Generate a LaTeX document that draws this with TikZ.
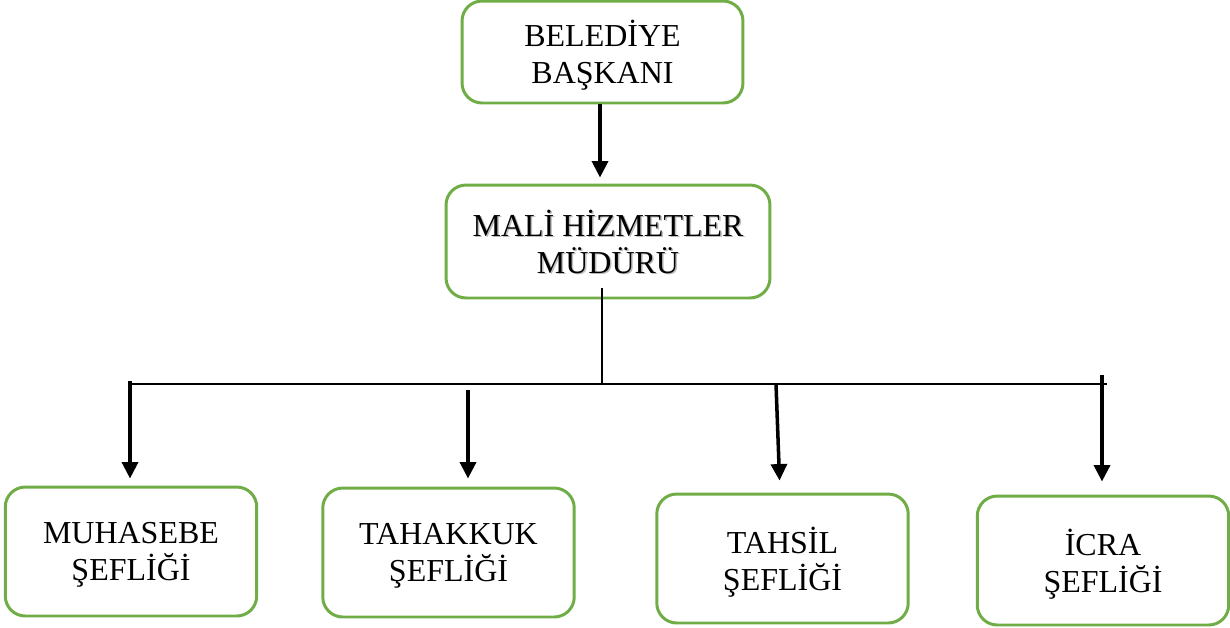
\documentclass[tikz,border=0pt]{standalone}
\usepackage{fontspec}
\setmainfont{Liberation Serif}
\usetikzlibrary{arrows.meta, positioning, calc}
\definecolor{c1}{HTML}{70AD47}
\definecolor{c2}{HTML}{000000}
\definecolor{shadowcolor}{HTML}{A0A0A0}

\begin{document}
\begin{tikzpicture}[
    x=0.02cm, y=-0.02cm,
    every node/.style={font=\fontsize{18.2}{21}\selectfont, align=center},
    unit/.style={draw=c1, line width=1.7pt, rounded corners=0.4cm,
                 inner sep=0pt, text=c2, text depth=0pt},
    chief/.style={unit, minimum width=5.62cm, minimum height=2.04cm},
    head/.style={unit, minimum width=6.48cm, minimum height=2.26cm},
    desk/.style={unit, minimum width=5.03cm, minimum height=2.58cm},
    ghost/.style={inner sep=0pt, text=shadowcolor, text opacity=0.7, text depth=0pt},
    down/.style={draw=c2, line width=2pt,
                 -{Triangle[length=0.33cm, width=0.32cm]}},
    bus/.style={draw=c2, line width=1.1pt},
    stem/.style={draw=c2, line width=0.6pt},
]
\useasboundingbox (0,0) rectangle (1230,627);

% ---------------------------------------------------------------- the boxes
\node[chief] (mayor) at (602.5, 52) {BELEDİYE\\BAŞKANI};

% shadow under the second title
\node[ghost] (headshade) at (609.5, 243) {MALİ HİZMETLER\\MÜDÜRÜ};
\node[head] (finance) at (608, 241.5) {MALİ HİZMETLER\\MÜDÜRÜ};

\foreach \n/\x/\y/\t in {muh/131/551.5/{MUHASEBE\\ŞEFLİĞİ},
                         tah/448.5/552.5/{TAHAKKUK\\ŞEFLİĞİ},
                         tsl/782.5/558.5/{TAHSİL\\ŞEFLİĞİ},
                         icr/1103/560.5/{İCRA\\ŞEFLİĞİ}} {
    \node[desk] (\n) at (\x, \y) {\t};
}

% ---------------------------------------------------------------- the lines
\draw[down, shorten >=0.12cm] (mayor.south -| 600, 0) -- (finance.north -| 600, 0);

\coordinate (stemtop) at (602, 288);
\coordinate (stembot) at (602, 384);
\draw[stem] (stemtop) -- (stembot);

\coordinate (busL) at (130, 384);
\coordinate (busR) at (1107, 384);
\draw[bus] (busL) -- (busR);

% drops to the four desks
\coordinate (d1) at (130, 381);
\coordinate (d2) at (468, 390);
\coordinate (d3) at (776, 384);
\coordinate (d4) at (1102, 375);

\draw[down, shorten >=0.14cm] (d1) -- (d1 |- muh.north);
\draw[down, shorten >=0.16cm] (d2) -- (d2 |- tah.north);
\draw[down, shorten >=0.24cm] (d3) -- ($(d3 |- tsl.north)+(4,0)$);
\draw[down, shorten >=0.26cm] (d4) -- (d4 |- icr.north);

\end{tikzpicture}
\end{document}
